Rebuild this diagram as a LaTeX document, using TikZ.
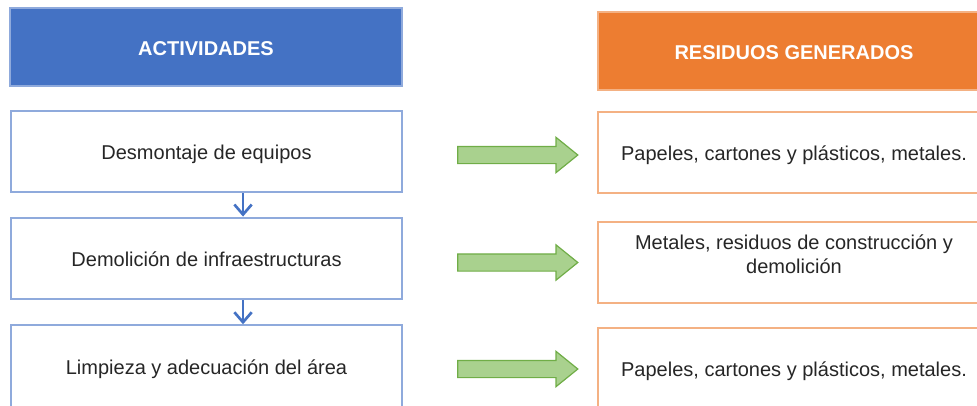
\documentclass[tikz,border=0pt]{standalone}
\usepackage{fontspec}
\setmainfont{Liberation Sans}
\usetikzlibrary{arrows.meta,shapes.arrows}

\definecolor{hdrblue}{HTML}{4472C4}
\definecolor{boxblue}{HTML}{8FAADC}
\definecolor{hdrorange}{HTML}{ED7D31}
\definecolor{boxorange}{HTML}{F4B183}
\definecolor{arrgreen}{HTML}{A9D18E}
\definecolor{arrgreendark}{HTML}{70AD47}

\tikzset{
	capmid/.style={text height=12pt, text depth=0pt, inner sep=0pt},
	acthdr/.style={capmid, fill=hdrblue, draw=boxblue, line width=0.8pt, minimum width=294pt, minimum height=58.5pt, text=white, font=\bfseries},
	reshdr/.style={capmid, fill=hdrorange, draw=boxorange, line width=0.8pt, minimum width=294pt, minimum height=58.5pt, text=white, font=\bfseries},
	actbox/.style={capmid, draw=boxblue, line width=1.6pt, minimum width=293pt, minimum height=61pt, text=black!85},
	resbox/.style={capmid, draw=boxorange, line width=1.6pt, minimum width=294pt, minimum height=61pt, text=black!85},
	goarrow/.style={single arrow, fill=arrgreen, draw=arrgreendark, line width=0.9pt, text height=6pt, text depth=6pt, minimum height=90pt, minimum width=25.5pt, single arrow head extend=6.75pt, single arrow tip angle=78, inner sep=0pt},
	nextstep/.style={draw=hdrblue, line width=2pt, -{Straight Barb[length=7.5pt,width=13pt]}}
}

\begin{document}
\begin{tikzpicture}[x=0.75pt, y=-0.75pt]
		\fontsize{15}{17.5}\selectfont
		\useasboundingbox (0, 0) rectangle (977, 405);
		\clip (0, 0) rectangle (977, 405);
		
		%%%%% HEADERS %%%%%
		\node[acthdr] (act) at (206, 47) {ACTIVIDADES};
		\node[reshdr] (res) at (794, 51) {RESIDUOS GENERADOS};
		
		%%%%% ACTIVIDADES %%%%%
		\node[actbox] (a1) at (206.5, 151.3) {Desmontaje de equipos};
		\node[actbox] (a2) at (206.5, 258.3) {Demolición de infraestructuras};
		\node[actbox] (a3) at (206.5, 366) {Limpieza y adecuación del área};
		
		\draw[nextstep] ([xshift=27.4pt]a1.south) -- ([xshift=27.4pt]a2.north);
		\draw[nextstep] ([xshift=27.4pt]a2.south) -- ([xshift=27.4pt]a3.north);
		
		%%%%% RESIDUOS %%%%%
		\node[resbox] (r1) at (794, 152.7) {Papeles, cartones y plásticos, metales.};
		\node[resbox, align=center, text height=16.5pt] (r2) at (794, 262.3) {Metales, residuos de construcción y\\demolición};
		\node[resbox] (r3) at (794, 368.5) {Papeles, cartones y plásticos, metales.};
		
		%%%%% FLECHAS %%%%%
		\node[goarrow] (g1) at (512.5, 155) {};
		\node[goarrow] (g2) at (512.5, 262.5) {};
		\node[goarrow] (g3) at (512.5, 369) {};
		
	\end{tikzpicture}
\end{document}
